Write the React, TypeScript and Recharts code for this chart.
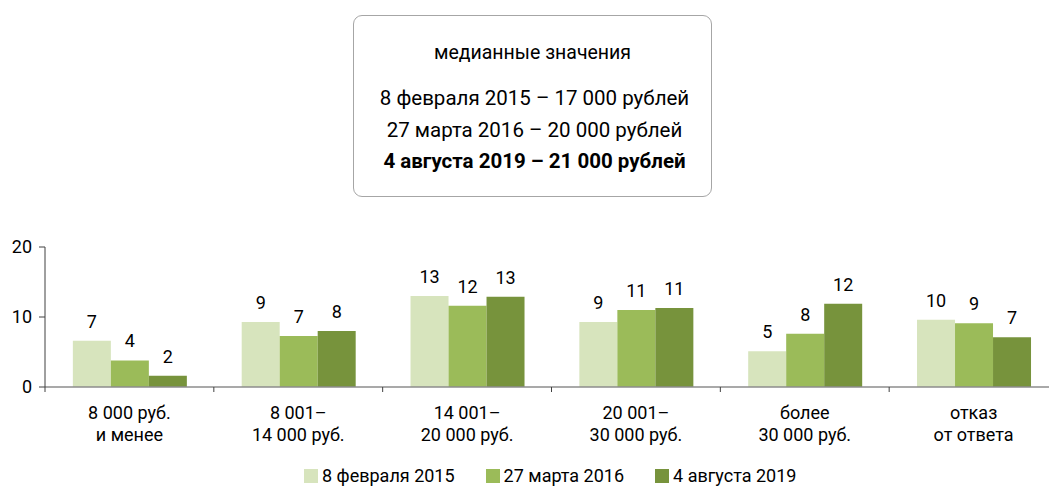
import React from 'react';
import { BarChart, Bar, XAxis, YAxis, LabelList } from 'recharts';

const categories: string[][] = [
  ['8 000 руб.', 'и менее'],
  ['8 001–', '14 000 руб.'],
  ['14 001–', '20 000 руб.'],
  ['20 001–', '30 000 руб.'],
  ['более', '30 000 руб.'],
  ['отказ', 'от ответа'],
];

const feb2015 = [6.6, 9.3, 13.0, 9.3, 5.1, 9.6];
const mar2016 = [3.8, 7.3, 11.6, 11.0, 7.6, 9.1];
const aug2019 = [1.6, 8.0, 12.9, 11.3, 11.9, 7.1];

const seriesNames = ['8 февраля 2015', '27 марта 2016', '4 августа 2019'];
const seriesKeys = ['s1', 's2', 's3'];
const seriesColors = ['#d7e4bd', '#9bbb59', '#77933c'];

const yTicks = [0, 10, 20];

const medianTitle = 'медианные значения';
const medianLines = [
  '8 февраля 2015 – 17 000 рублей',
  '27 марта 2016 – 20 000 рублей',
  '4 августа 2019 – 21 000 рублей',
];

const seriesValues = [feb2015, mar2016, aug2019];

const data = categories.map((c, i) => {
  const row: any = { name: c.join('\n') };
  seriesKeys.forEach((k, j) => {
    row[k] = seriesValues[j][i];
  });
  return row;
});

const CategoryTick = (props: any) => {
  const { x, y, payload, index, visibleTicksCount } = props;
  const half = typeof payload.offset === 'number' ? payload.offset : 0;
  const lines = String(payload.value).split('\n');
  return (
    <g>
      <line x1={x - half} x2={x - half} y1={y} y2={y + 5} stroke="#404040" strokeWidth={1} />
      {index === visibleTicksCount - 1 && (
        <line x1={x + half} x2={x + half} y1={y} y2={y + 5} stroke="#404040" strokeWidth={1} />
      )}
      {lines.map((l, i) => (
        <text
          key={i}
          x={x}
          y={y + 25 + i * 22}
          textAnchor="middle"
          dominantBaseline="central"
          fontSize={18}
          fill="#000"
        >
          {l}
        </text>
      ))}
    </g>
  );
};

const fmt = (v: any) => Math.round(Number(v));

export default function App() {
  return (
    <div
      style={{
        position: 'fixed',
        left: 0,
        top: 0,
        width: 1049,
        height: 488,
        overflow: 'hidden',
        background: '#fff',
        fontFamily: 'Roboto, "Noto Sans", sans-serif',
        color: '#000',
      }}
    >
      <BarChart
        width={1060}
        height={488}
        data={data}
        margin={{ top: 247, right: 2, bottom: 0, left: 0 }}
        barCategoryGap="16.5%"
        barGap={0}
      >
        <XAxis
          dataKey="name"
          interval={0}
          height={101}
          tickLine={false}
          tickSize={0}
          tickMargin={0}
          axisLine={{ stroke: '#8c8c8c', strokeWidth: 1.5 }}
          tick={<CategoryTick />}
        />
        <YAxis
          width={45}
          domain={[0, 20]}
          ticks={yTicks}
          interval={0}
          tickSize={6}
          tickMargin={7}
          axisLine={{ stroke: '#404040' }}
          tickLine={{ stroke: '#404040' }}
          tick={{ fontSize: 18, fill: '#000' }}
        />
        {seriesKeys.map((k, j) => (
          <Bar key={k} dataKey={k} name={seriesNames[j]} fill={seriesColors[j]} isAnimationActive={false}>
            <LabelList dataKey={k} position="top" offset={13} formatter={fmt} fill="#000" fontSize={18} />
          </Bar>
        ))}
      </BarChart>

      <div
        style={{
          position: 'absolute',
          left: 353,
          top: 15,
          width: 359,
          height: 182,
          boxSizing: 'border-box',
          border: '1.5px solid #a6a6a6',
          borderRadius: 9,
          background: '#fff',
        }}
      />
      <div
        style={{
          position: 'absolute',
          left: 353,
          width: 359,
          top: 53 - 12,
          height: 24,
          lineHeight: '24px',
          textAlign: 'center',
          fontSize: 19.5,
        }}
      >
        {medianTitle}
      </div>
      {medianLines.map((t, i) => (
        <div
          key={i}
          style={{
            position: 'absolute',
            left: 355,
            width: 359,
            top: [98, 130, 161][i] - 12,
            height: 24,
            lineHeight: '24px',
            textAlign: 'center',
            fontSize: 20.5,
            fontWeight: i === medianLines.length - 1 ? 700 : 400,
          }}
        >
          {t}
        </div>
      ))}

      <div
        style={{
          position: 'absolute',
          left: 304,
          top: 466,
          display: 'flex',
          alignItems: 'center',
          fontSize: 18,
          lineHeight: '20px',
          whiteSpace: 'nowrap',
        }}
      >
        {seriesNames.map((n, j) => (
          <div key={n} style={{ display: 'flex', alignItems: 'center', marginRight: 31 }}>
            <div style={{ width: 14, height: 14, background: seriesColors[j], marginRight: 4 }} />
            <span>{n}</span>
          </div>
        ))}
      </div>
    </div>
  );
}
